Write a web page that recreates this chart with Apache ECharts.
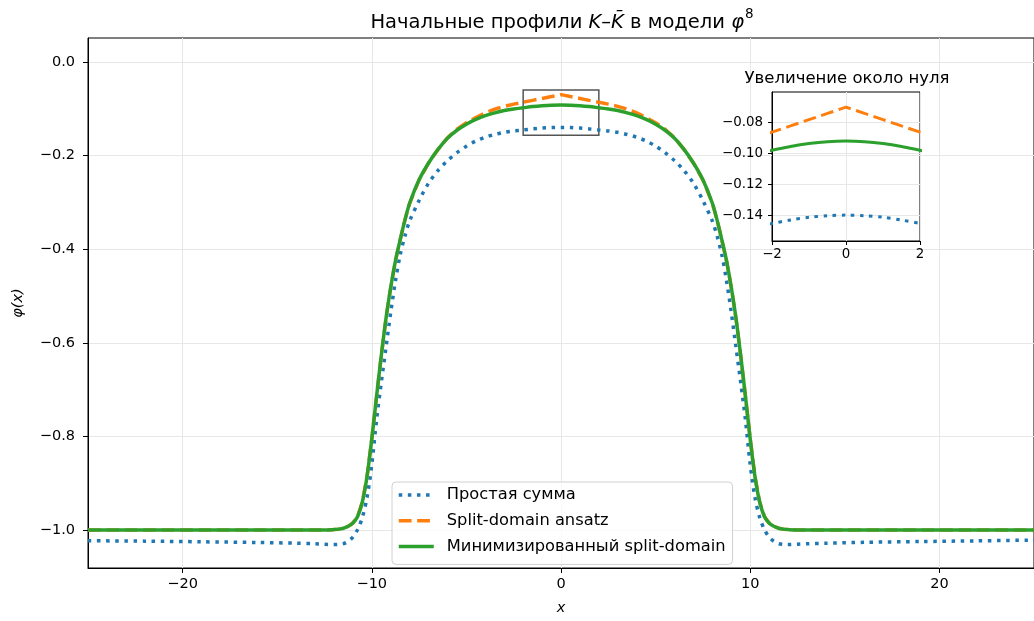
<!DOCTYPE html>
<html><head><meta charset="utf-8">
<script src="https://cdn.jsdelivr.net/npm/echarts@6/dist/echarts.min.js"></script>
<style>html,body{margin:0;padding:0;background:#fff}#c{width:1034px;height:621px}</style>
</head><body><div id="c"></div>
<script>
// ---------- data ----------
const xValues = [-25,-22,-19,-16,-14,-13,-12.5,-12,-11.75,-11.5,-11.25,-11,-10.75,-10.5,-10.25,-10,-9.75,-9.5,-9.25,-9,-8.75,-8.5,-8.25,-8,-7.5,-7,-6.5,-6,-5.5,-5,-4.5,-4,-3.5,-3,-2.5,-2,-1.5,-1,-0.5,0,
  0.5,1,1.5,2,2.5,3,3.5,4,4.5,5,5.5,6,6.5,7,7.5,8,8.25,8.5,8.75,9,9.25,9.5,9.75,10,10.25,10.5,10.75,11,11.25,11.5,11.75,12,12.5,13,14,16,19,22,25];
const simpleSum = [-1.0228,-1.0236,-1.025,-1.0265,-1.028,-1.0293,-1.0302,-1.031,-1.0305,-1.029,-1.024,-1.015,-0.999,-0.973,-0.930,-0.860,-0.765,-0.685,-0.610,-0.535,-0.468,-0.412,-0.372,-0.340,-0.296,-0.259,-0.232,-0.211,-0.194,-0.180,-0.169,-0.161,-0.155,-0.1505,-0.1475,-0.1454,-0.1432,-0.1414,-0.1404,-0.1400,
  -0.1404,-0.1414,-0.1432,-0.1454,-0.1475,-0.1505,-0.155,-0.161,-0.169,-0.180,-0.194,-0.211,-0.232,-0.259,-0.296,-0.340,-0.372,-0.412,-0.468,-0.535,-0.610,-0.685,-0.765,-0.860,-0.930,-0.973,-0.999,-1.015,-1.024,-1.029,-1.0305,-1.031,-1.0302,-1.0293,-1.028,-1.0262,-1.0245,-1.023,-1.0213];
const splitDomain = [-1.0,-1.0,-1.0,-1.0,-1.0,-1.0,-1.0,-0.999,-0.998,-0.996,-0.992,-0.985,-0.971,-0.940,-0.885,-0.805,-0.715,-0.628,-0.548,-0.482,-0.425,-0.380,-0.338,-0.302,-0.252,-0.216,-0.187,-0.162,-0.144,-0.130,-0.119,-0.109,-0.101,-0.095,-0.0902,-0.0862,-0.0822,-0.0781,-0.0741,-0.0700,
  -0.0741,-0.0781,-0.0822,-0.0862,-0.0902,-0.095,-0.101,-0.109,-0.119,-0.130,-0.144,-0.162,-0.187,-0.216,-0.252,-0.302,-0.338,-0.380,-0.425,-0.482,-0.548,-0.628,-0.715,-0.805,-0.885,-0.940,-0.971,-0.985,-0.992,-0.996,-0.998,-0.999,-1.0,-1.0,-1.0,-1.0,-1.0,-1.0,-1.0];
const minimized = [-1.0,-1.0,-1.0,-1.0,-1.0,-1.0,-1.0,-0.999,-0.998,-0.996,-0.992,-0.985,-0.971,-0.940,-0.885,-0.805,-0.715,-0.628,-0.548,-0.482,-0.425,-0.380,-0.338,-0.302,-0.252,-0.216,-0.187,-0.163,-0.146,-0.133,-0.123,-0.115,-0.109,-0.104,-0.1005,-0.098,-0.0955,-0.0936,-0.0924,-0.0920,
  -0.0924,-0.0936,-0.0955,-0.098,-0.1005,-0.104,-0.109,-0.115,-0.123,-0.133,-0.146,-0.163,-0.187,-0.216,-0.252,-0.302,-0.338,-0.380,-0.425,-0.482,-0.548,-0.628,-0.715,-0.805,-0.885,-0.940,-0.971,-0.985,-0.992,-0.996,-0.998,-0.999,-1.0,-1.0,-1.0,-1.0,-1.0,-1.0,-1.0];
const seriesNames = ['Простая сумма', 'Split-domain ansatz', 'Минимизированный split-domain'];
const mainXTicks = [-20, -10, 0, 10, 20];
const mainYTicks = [-1.0, -0.8, -0.6, -0.4, -0.2, 0.0];
const insetXTicks = [-2, 0, 2];
const insetYTicks = [-0.14, -0.12, -0.10, -0.08];
const mainXRange = [-25, 25];
const mainYRange = [-1.081, 0.051];
const insetXRange = [-2, 2];
const insetYRange = [-0.1568, -0.0602];
const mainTitle = 'Начальные профили ';
const insetTitle = 'Увеличение около нуля';

// ---------- chart ----------
const FONT = 'DejaVu Sans';
const colors = ['#1f77b4', '#ff7f0e', '#2ca02c'];
const dashes = [[3.5, 5.6], [12.8, 5.6], 'solid'];
const valuesList = [simpleSum, splitDomain, minimized];
const pairs = v => xValues.map((x, i) => [x, v[i]]);
const fmt = d => v => (v < 0 ? '\u2212' : '') + Math.abs(v).toFixed(d);

function makeAxis(idx, range, ticks, d, fs, isX, extra) {
  return Object.assign({
    type: 'value', gridIndex: idx, min: range[0], max: range[1],
    axisLine: { show: true, onZero: false, lineStyle: { color: '#000', width: 1 } },
    axisTick: { show: true, inside: false, length: idx === 0 ? 5 : 4, customValues: ticks, lineStyle: { color: '#000', width: 1 } },
    axisLabel: { customValues: ticks, formatter: fmt(d), color: '#000', fontFamily: FONT, fontSize: fs, margin: isX ? (idx === 0 ? 9 : 7) : (idx === 0 ? 13 : 9) },
    splitLine: { show: true, lineStyle: { color: '#e7e7e7', width: 1 } }
  }, extra || {});
}

const series = [];
valuesList.forEach((v, i) => {
  series.push({
    name: seriesNames[i], type: 'line', xAxisIndex: 0, yAxisIndex: 0,
    data: pairs(v), showSymbol: false, symbol: 'none', smooth: i === 1 ? false : 0.3,
    lineStyle: { color: colors[i], width: 3.5, type: dashes[i], cap: 'butt' },
    itemStyle: { color: colors[i] }, z: 2 + i, animation: false,
    markArea: i === 2 ? {
      silent: true,
      itemStyle: { color: 'rgba(0,0,0,0)', borderColor: '#555', borderWidth: 1.5 },
      data: [[{ coord: [insetXRange[0], insetYRange[1]] }, { coord: [insetXRange[1], insetYRange[0]] }]]
    } : undefined
  });
});
valuesList.forEach((v, i) => {
  series.push({
    name: seriesNames[i], type: 'line', xAxisIndex: 1, yAxisIndex: 1,
    data: pairs(v), showSymbol: false, symbol: 'none', smooth: i === 1 ? false : 0.3, clip: true,
    lineStyle: { color: colors[i], width: 3, type: dashes[i], cap: 'butt' },
    itemStyle: { color: colors[i] }, z: 10 + i, animation: false
  });
});

const option = {
  animation: false,
  backgroundColor: '#fff',
  textStyle: { fontFamily: FONT },
  title: [
    {
      text: '{n|' + mainTitle + '}{i|K}{n|–}{i|K\u0304}{n| в модели }{i|φ}{s|8}',
      left: 557, top: 0, textAlign: 'center',
      textStyle: {
        fontWeight: 'normal',
        rich: {
          n: { fontFamily: FONT, fontSize: 19.5, fontWeight: 'normal', color: '#000', lineHeight: 28, verticalAlign: 'bottom' },
          i: { fontFamily: FONT, fontSize: 19.5, fontWeight: 'normal', fontStyle: 'italic', color: '#000', lineHeight: 28, verticalAlign: 'bottom' },
          s: { fontFamily: FONT, fontSize: 13.5, fontWeight: 'normal', color: '#000', lineHeight: 28, verticalAlign: 'top', padding: [2, 0, 0, 1] }
        }
      }
    },
    {
      text: insetTitle, left: 842, top: 65, textAlign: 'center',
      textStyle: { fontFamily: FONT, fontSize: 16.5, fontWeight: 'normal', color: '#000' }
    }
  ],
  legend: {
    data: seriesNames.map(n => ({ name: n })), orient: 'vertical', left: 392, top: 482,
    selectedMode: false, itemWidth: 35, itemHeight: 14, itemGap: 7.7,
    padding: [4, 7, 9, 5],
    itemStyle: { opacity: 0, borderWidth: 0 },
    lineStyle: { width: 3.5 },
    backgroundColor: 'rgba(255,255,255,0.8)', borderColor: '#d0d0d0', borderWidth: 1, borderRadius: 4,
    textStyle: { fontFamily: FONT, fontSize: 16.3, color: '#000', padding: [0, 0, 0, 8], lineHeight: 18 }
  },
  grid: [
    { left: 88, top: 38, right: -2, bottom: 52, show: true, borderColor: '#000', borderWidth: 1, backgroundColor: 'transparent', containLabel: false },
    { left: 772, top: 92, width: 148, height: 149, show: true, borderColor: '#000', borderWidth: 1, backgroundColor: 'transparent', containLabel: false }
  ],
  xAxis: [
    makeAxis(0, mainXRange, mainXTicks, 0, 14.5, true, {
      name: 'x', nameLocation: 'middle', nameGap: 33,
      nameTextStyle: { fontFamily: FONT, fontSize: 14.5, fontStyle: 'italic', color: '#000' }
    }),
    makeAxis(1, insetXRange, insetXTicks, 0, 13.4, true)
  ],
  yAxis: [
    makeAxis(0, mainYRange, mainYTicks, 1, 14.5, false, {
      name: 'φ(x)', nameLocation: 'middle', nameGap: 62, nameRotate: 90,
      nameTextStyle: { fontFamily: FONT, fontSize: 14.5, fontStyle: 'italic', color: '#000' }
    }),
    makeAxis(1, insetYRange, insetYTicks, 2, 13.4, false)
  ],
  series: series
};

const chart = echarts.init(document.getElementById('c'), null, { renderer: 'canvas' });
chart.setOption(option);
</script>
</body></html>
